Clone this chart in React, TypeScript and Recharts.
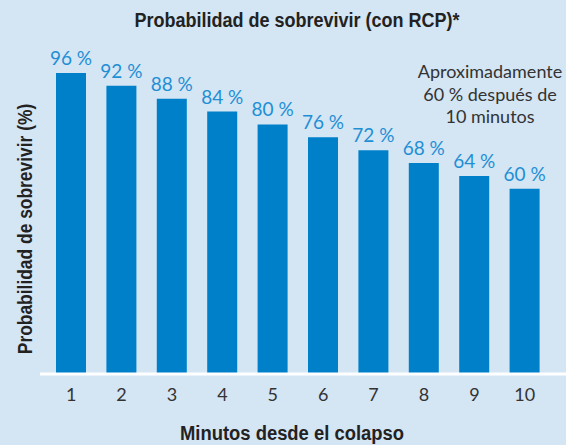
import { Bar, BarChart, LabelList, XAxis, YAxis } from "recharts";

const minutes = ["1", "2", "3", "4", "5", "6", "7", "8", "9", "10"];
const survival = [96, 92, 88, 84, 80, 76, 72, 68, 64, 60];
const noteLines = ["Aproximadamente", "60 % después de", "10 minutos"];

const data = minutes.map((m, i) => ({ minute: m, survival: survival[i] }));

const bg = "#d4e5f4";
const barColor = "#0080c8";
const labelColor = "#1f8fd4";
const textColor = "#333333";
const geoFont = "Lato, 'Noto Sans', sans-serif";
const condFont = "'Liberation Sans', Arial, sans-serif";

// value label drawn above each bar, without wrapping to bar width
function TopLabel(props: any) {
  const { x, y, width, value } = props;
  return (
    <text
      x={x + width / 2}
      y={y - 8}
      textAnchor="middle"
      fill={labelColor}
      fontSize={19}
      fontFamily={geoFont}
    >
      {`${value} %`}
    </text>
  );
}

const boldText = {
  fontFamily: condFont,
  fontWeight: 700,
  fontSize: 20,
  color: "#222222",
  whiteSpace: "nowrap" as const,
};

export default function App() {
  return (
    <div
      style={{
        position: "absolute",
        left: 0,
        top: 0,
        width: 566,
        height: 445,
        background: bg,
        overflow: "hidden",
      }}
    >
      <BarChart
        width={566}
        height={445}
        data={data}
        margin={{ top: 60, right: 0, bottom: 0, left: 40 }}
      >
        <XAxis
          dataKey="minute"
          height={71}
          padding={{ left: 6, right: 16 }}
          tickLine={false}
          axisLine={{ stroke: "#ffffff", strokeWidth: 3 }}
          tick={{ fill: textColor, fontSize: 18, fontFamily: geoFont }}
          dy={6}
        />
        <YAxis hide domain={[2.5, 100]} />
        <Bar
          dataKey="survival"
          fill={barColor}
          barSize={30}
          isAnimationActive={false}
        >
          <LabelList dataKey="survival" content={TopLabel} />
        </Bar>
      </BarChart>

      <div
        style={{
          ...boldText,
          position: "absolute",
          left: 0,
          width: 594,
          top: 9,
          textAlign: "center",
          transform: "scaleX(0.9)",
        }}
      >
        Probabilidad de sobrevivir (con RCP)*
      </div>

      <div
        style={{
          ...boldText,
          position: "absolute",
          left: 25 - 150,
          top: 229 - 12,
          width: 300,
          height: 24,
          lineHeight: "24px",
          textAlign: "center",
          transform: "rotate(-90deg) scaleX(0.87)",
        }}
      >
        Probabilidad de sobrevivir (%)
      </div>

      <div
        style={{
          ...boldText,
          position: "absolute",
          left: 0,
          width: 584,
          top: 422,
          textAlign: "center",
          transform: "scaleX(0.92)",
        }}
      >
        Minutos desde el colapso
      </div>

      <div
        style={{
          position: "absolute",
          left: 405,
          width: 170,
          top: 60,
          textAlign: "center",
          fontFamily: geoFont,
          fontSize: 18,
          lineHeight: "22.5px",
          color: textColor,
        }}
      >
        {noteLines.map((l) => (
          <div key={l}>{l}</div>
        ))}
      </div>
    </div>
  );
}
